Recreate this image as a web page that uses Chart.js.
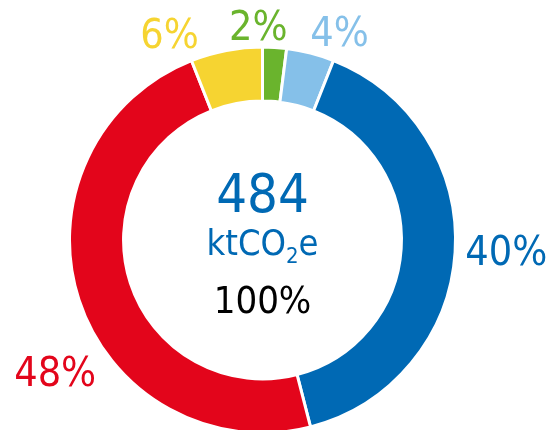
<!DOCTYPE html>
<html>
<head>
<meta charset="utf-8">
<script src="https://cdn.jsdelivr.net/npm/chart.js@4/dist/chart.umd.min.js"></script>
<style>
  html, body { margin: 0; padding: 0; background: #fff; }
  #wrap { width: 551px; height: 430px; }
</style>
</head>
<body>
<div id="wrap"><canvas id="chart" width="551" height="430"></canvas></div>
<script>
// shares of the total, clockwise from 12 o'clock
const shares = [2, 4, 40, 48, 6];
const shareLabels = ['2%', '4%', '40%', '48%', '6%'];
const segmentColors = ['#6AB42D', '#85C0E9', '#0069B4', '#E3051B', '#F6D431'];

// centre text
const totalValue = '484';
const totalUnit = ['ktCO', '2', 'e'];
const totalShare = '100%';

const FONT = '"DejaVu Sans Condensed", "DejaVu Sans", sans-serif';

// where each percentage sits: angle nudge from segment middle (deg) and gap beyond the ring (px)
const labelPlacement = [
    { turn: -4.7, gap: 22 },
    { turn: 5.8, gap: 30 },
    { turn: -1.2, gap: 51 },
    { turn: -14.2, gap: 52 },
    { turn: -13.4, gap: 34 }
];

const ringLabels = {
    id: 'ringLabels',
    afterDraw(chart) {
        const ctx = chart.ctx;
        const arcs = chart.getDatasetMeta(0).data;
        const size = 41;
        ctx.save();
        ctx.font = size + 'px ' + FONT;
        ctx.textAlign = 'center';
        ctx.textBaseline = 'alphabetic';
        arcs.forEach((arc, i) => {
            const p = labelPlacement[i];
            const mid = (arc.startAngle + arc.endAngle) / 2 + p.turn * Math.PI / 180;
            const d = arc.outerRadius + p.gap;
            const x = arc.x + Math.cos(mid) * d;
            const y = arc.y + Math.sin(mid) * d;
            ctx.fillStyle = segmentColors[i];
            ctx.fillText(shareLabels[i], x, y + size * 0.365);
        });

        // centre block
        const cx = arcs[0].x;
        const cy = arcs[0].y;
        ctx.fillStyle = '#0069B4';
        ctx.font = '54px ' + FONT;
        ctx.fillText(totalValue, cx, cy - 28);

        ctx.textAlign = 'left';
        const big = '36px ' + FONT;
        const small = '22px ' + FONT;
        ctx.font = big;
        const w0 = ctx.measureText(totalUnit[0]).width;
        const w2 = ctx.measureText(totalUnit[2]).width;
        ctx.font = small;
        const w1 = ctx.measureText(totalUnit[1]).width;
        let x = cx - (w0 + w1 + w2) / 2;
        ctx.font = big;
        ctx.fillText(totalUnit[0], x, cy + 15);
        x += w0;
        ctx.font = small;
        ctx.fillText(totalUnit[1], x, cy + 23);
        x += w1;
        ctx.font = big;
        ctx.fillText(totalUnit[2], x, cy + 15);

        ctx.textAlign = 'center';
        ctx.fillStyle = '#000';
        ctx.font = '38px ' + FONT;
        ctx.fillText(totalShare, cx, cy + 73);
        ctx.restore();
    }
};

const ctx = document.getElementById('chart').getContext('2d');
new Chart(ctx, {
    type: 'doughnut',
    data: {
        labels: shareLabels,
        datasets: [{
            data: shares,
            backgroundColor: segmentColors,
            borderColor: '#fff',
            borderWidth: 3,
            hoverOffset: 0
        }]
    },
    options: {
        responsive: false,
        animation: false,
        radius: 193,
        cutout: '72%',
        layout: { padding: { left: 70, right: 96, top: 50, bottom: 0 } },
        plugins: {
            legend: { display: false },
            tooltip: { enabled: false }
        }
    },
    plugins: [ringLabels]
});
</script>
</body>
</html>
